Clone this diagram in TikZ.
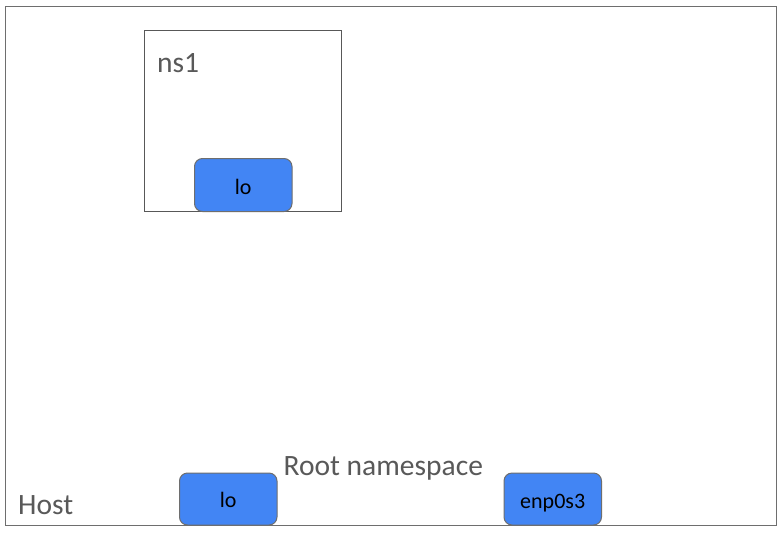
\documentclass[tikz,border=0pt]{standalone}
\usepackage{fontspec}
\setmainfont{Carlito}
\definecolor{ifblue}{RGB}{66,133,244}
\definecolor{labgray}{RGB}{89,89,89}
\definecolor{framegray}{RGB}{110,110,110}
\begin{document}
\begin{tikzpicture}[x=1pt,y=-1pt,
  iface/.style={draw=framegray,fill=ifblue,rounded corners=8pt,line width=1pt,inner sep=0pt},
  lab/.style={anchor=base west,text=labgray,inner sep=0pt,font=\fontsize{29.5}{32}\selectfont},
  iflab/.style={font=\fontsize{22}{24}\selectfont,text=black,inner sep=0pt}]
\useasboundingbox (0,0) rectangle (782,536);
\fill[white] (0,0) rectangle (782,536);
\draw[framegray,line width=1pt] (5,6.5) rectangle (776,525);
\draw[framegray!80!black,line width=1pt] (144.5,30) rectangle (341.7,211);
\draw[iface] (194.5,158.5) rectangle (292,211.5);
\draw[iface] (179.5,473) rectangle (277,525);
\draw[iface] (504,473) rectangle (601.5,525);
\node[iflab,anchor=base] (lo1) at (243.2,194) {lo};
\node[iflab,anchor=base] (lo2) at (228.2,507) {lo};
\node[iflab,anchor=base] (enp) at (552.7,508) {enp0s3};
\node[lab] (ns) at (157,72) {ns1};
\node[lab] (root) at (283.5,475) {Root namespace};
\node[lab] (host) at (18,514) {Host};
\end{tikzpicture}
\end{document}
